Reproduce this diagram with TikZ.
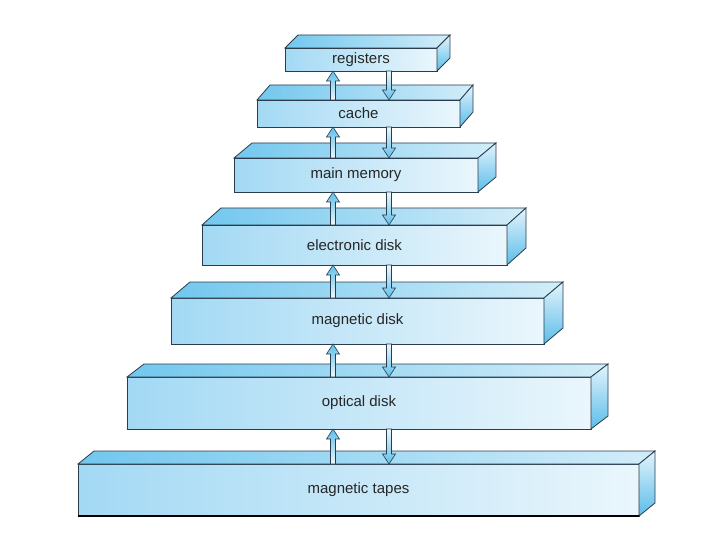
\documentclass[tikz,border=0pt]{standalone}
\usepackage{fontspec}
\setmainfont{Liberation Sans}
\usetikzlibrary{calc}
\definecolor{edge}{HTML}{2B3D4C}
\definecolor{frontl}{HTML}{A3D9F4}
\definecolor{frontr}{HTML}{EAF6FC}
\definecolor{topl}{HTML}{72C7EE}
\definecolor{topr}{HTML}{D2EDF9}
\definecolor{sidet}{HTML}{E3F4FC}
\definecolor{sideb}{HTML}{5CBDE9}
\definecolor{arrowl}{HTML}{EEF8FD}
\definecolor{arrowb}{HTML}{5CBFEA}
\tikzset{
  slab/.style={draw=edge, line width=0.8pt, left color=frontl, right color=frontr, inner sep=0pt, outer sep=0pt, text=black!85, font=\fontsize{15}{18}\selectfont},
  topface/.style={draw=edge, line width=0.8pt, left color=topl, right color=topr},
  sideface/.style={draw=edge, line width=0.8pt, top color=sidet, bottom color=sideb},
  uparrow/.style={draw=edge, line width=0.6pt, top color=arrowb, bottom color=arrowl,
    to path={($(\tikztostart)+(-2.5,0)$) -- ($(\tikztotarget)+(-2.5,10)$) -- ($(\tikztotarget)+(-6.5,10)$) -- (\tikztotarget) -- ($(\tikztotarget)+(6.5,10)$) -- ($(\tikztotarget)+(2.5,10)$) -- ($(\tikztostart)+(2.5,0)$) -- cycle}},
  downarrow/.style={draw=edge, line width=0.6pt, top color=arrowl, bottom color=arrowb,
    to path={($(\tikztostart)+(-2.5,0)$) -- ($(\tikztotarget)+(-2.5,-10)$) -- ($(\tikztotarget)+(-6.5,-10)$) -- (\tikztotarget) -- ($(\tikztotarget)+(6.5,-10)$) -- ($(\tikztotarget)+(2.5,-10)$) -- ($(\tikztostart)+(2.5,0)$) -- cycle}}
}
\begin{document}
\begin{tikzpicture}[x=1pt,y=-1pt]
\fill[white] (0,0) rectangle (720,540);
\useasboundingbox (0,0) rectangle (720,540);
% levels of the hierarchy, front faces
\node[slab, minimum width=152pt, minimum height=23pt] (registers) at (361,59.5) {registers};
\node[slab, minimum width=203pt, minimum height=27pt] (cache) at (358.5,113.5) {cache};
\node[slab, minimum width=244pt, minimum height=34pt] (mainmem) at (356,175) {main memory};
\node[slab, minimum width=305pt, minimum height=40pt] (elecdisk) at (354.5,245) {electronic disk};
\node[slab, minimum width=373pt, minimum height=46pt] (magdisk) at (357.5,321) {magnetic disk};
\node[slab, minimum width=464pt, minimum height=52pt] (optdisk) at (359,403) {optical disk};
\node[slab, minimum width=561pt, minimum height=52pt] (tapes) at (358.5,490) {magnetic tapes};
% top and side faces
\draw[topface] (registers.north west) -- ++(13,-13) -- ($(registers.north east)+(13,-13)$) -- (registers.north east) -- cycle;
\draw[sideface] (registers.north east) -- ++(13,-13) -- ($(registers.south east)+(13,-13)$) -- (registers.south east) -- cycle;
\draw[topface] (cache.north west) -- ++(13,-15) -- ($(cache.north east)+(13,-15)$) -- (cache.north east) -- cycle;
\draw[sideface] (cache.north east) -- ++(13,-15) -- ($(cache.south east)+(13,-15)$) -- (cache.south east) -- cycle;
\draw[topface] (mainmem.north west) -- ++(18,-15) -- ($(mainmem.north east)+(18,-15)$) -- (mainmem.north east) -- cycle;
\draw[sideface] (mainmem.north east) -- ++(18,-15) -- ($(mainmem.south east)+(18,-15)$) -- (mainmem.south east) -- cycle;
\draw[topface] (elecdisk.north west) -- ++(19,-17) -- ($(elecdisk.north east)+(19,-17)$) -- (elecdisk.north east) -- cycle;
\draw[sideface] (elecdisk.north east) -- ++(19,-17) -- ($(elecdisk.south east)+(19,-17)$) -- (elecdisk.south east) -- cycle;
\draw[topface] (magdisk.north west) -- ++(19,-16) -- ($(magdisk.north east)+(19,-16)$) -- (magdisk.north east) -- cycle;
\draw[sideface] (magdisk.north east) -- ++(19,-16) -- ($(magdisk.south east)+(19,-16)$) -- (magdisk.south east) -- cycle;
\draw[topface] (optdisk.north west) -- ++(17,-13) -- ($(optdisk.north east)+(17,-13)$) -- (optdisk.north east) -- cycle;
\draw[sideface] (optdisk.north east) -- ++(17,-13) -- ($(optdisk.south east)+(17,-13)$) -- (optdisk.south east) -- cycle;
\draw[topface] (tapes.north west) -- ++(16,-13) -- ($(tapes.north east)+(16,-13)$) -- (tapes.north east) -- cycle;
\draw[sideface] (tapes.north east) -- ++(16,-13) -- ($(tapes.south east)+(16,-13)$) -- (tapes.south east) -- cycle;
\draw[line width=2pt, black] (tapes.south west) -- (tapes.south east);
% transfer arrows
\coordinate (upx) at (333,0);
\coordinate (downx) at (389,0);
\draw[uparrow] (cache.north -| upx) to (registers.south -| upx);
\draw[downarrow] (registers.south -| downx) to (cache.north -| downx);
\draw[uparrow] (mainmem.north -| upx) to (cache.south -| upx);
\draw[downarrow] (cache.south -| downx) to (mainmem.north -| downx);
\draw[uparrow] (elecdisk.north -| upx) to (mainmem.south -| upx);
\draw[downarrow] (mainmem.south -| downx) to (elecdisk.north -| downx);
\draw[uparrow] (magdisk.north -| upx) to (elecdisk.south -| upx);
\draw[downarrow] (elecdisk.south -| downx) to (magdisk.north -| downx);
\draw[uparrow] (optdisk.north -| upx) to (magdisk.south -| upx);
\draw[downarrow] (magdisk.south -| downx) to (optdisk.north -| downx);
\draw[uparrow] (tapes.north -| upx) to (optdisk.south -| upx);
\draw[downarrow] (optdisk.south -| downx) to (tapes.north -| downx);
\end{tikzpicture}
\end{document}
